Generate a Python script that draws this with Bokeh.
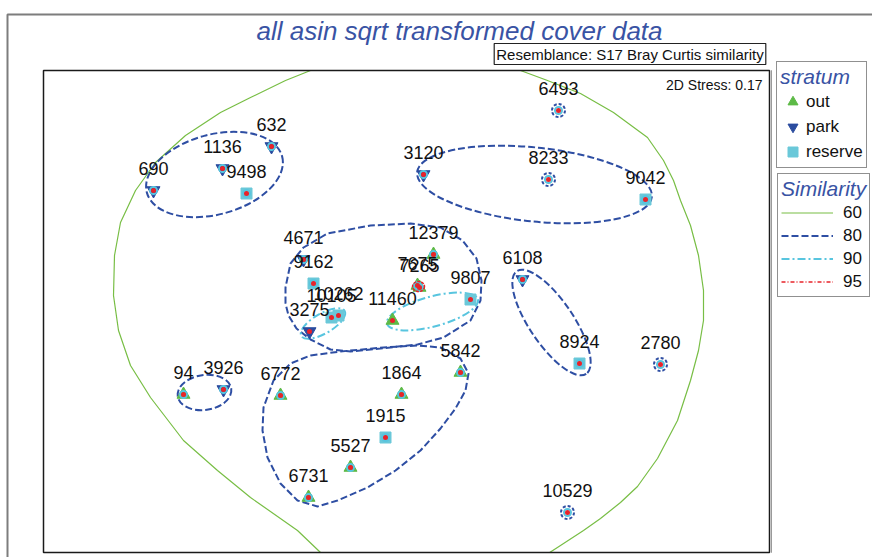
import numpy as np
from bokeh.plotting import figure
from bokeh.models import ColumnDataSource, Label, Legend, LegendItem, BoxAnnotation, Range1d
from bokeh.core.properties import value
from bokeh.embed import file_html
from bokeh.resources import INLINE

# ---------------- data (MDS ordination) ----------------
sample_ids = ["690", "1136", "632", "9498", "3120", "8233", "6493", "9042", "4671", "9162",
              "10105", "10262", "3275", "7265", "7675", "12379", "11460", "9807", "6108", "8924",
              "2780", "10529", "94", "3926", "6772", "1864", "5842", "1915", "5527", "6731"]
mds_x = [-2.535, -1.845, -1.355, -1.605, 0.165, 1.415, 1.515, 2.385, -1.035, -0.935,
         -0.755, -0.685, -0.975, 0.125, 0.105, 0.265, -0.145, 0.635, 1.155, 1.725,
         2.535, 1.605, -2.235, -1.835, -1.265, -0.055, 0.535, -0.215, -0.565, -0.985]
mds_y = [1.205, 1.425, 1.645, 1.175, 1.365, 1.315, 2.005, 1.115, 0.515, 0.275,
         -0.065, -0.045, -0.205, 0.235, 0.255, 0.565, -0.095, 0.115, 0.315, -0.525,
         -0.535, -2.015, -0.835, -0.785, -0.845, -0.835, -0.615, -1.265, -1.565, -1.865]
stratum = ["park", "park", "park", "reserve", "park", "", "", "reserve", "park", "reserve",
           "reserve", "reserve", "park", "out", "out", "out", "out", "reserve", "park", "reserve",
           "", "", "out", "park", "out", "out", "out", "reserve", "out", "out"]

single_at_80 = ["6493", "8233", "2780", "10529"]
grouped_at_90 = ["10105", "10262", "3275", "11460", "9807"]

# ordination plot extent (MDS units)
plot_x0, plot_x1 = -3.635, 3.625
plot_y0, plot_y1 = -2.415, 2.405

# 80% similarity contours drawn as ellipses (centre, width, height, angle deg)
ell80_x = [-1.925, 1.275, 1.445, -2.025]
ell80_y = [1.365, 1.265, -0.115, -0.815]
ell80_w = [1.40, 2.36, 1.24, 0.54]
ell80_h = [0.80, 0.74, 0.44, 0.35]
ell80_a = [15, -6, -56, 8]
# 90% contours
ell90_x = [-0.84, 0.255]
ell90_y = [-0.125, -0.005]
ell90_w = [0.50, 0.94]
ell90_h = [0.20, 0.30]
ell90_a = [30, 15]
# 95% contour
ell95_x = [0.115]
ell95_y = [0.245]
ell95_w = [0.12]
ell95_h = [0.10]
ell95_a = [0]

# 80% irregular contours (vertices)
c80a_x = [-1.215, -1.215, -1.165, -1.035, -0.795, -0.365, 0.035, 0.335, 0.555, 0.695, 0.745,
          0.735, 0.635, 0.365, 0.105, -0.265, -0.565, -0.765, -0.965, -1.105, -1.185]
c80a_y = [0.075, 0.235, 0.475, 0.635, 0.775, 0.855, 0.875, 0.835, 0.705, 0.525, 0.305,
          0.105, -0.095, -0.265, -0.335, -0.375, -0.405, -0.385, -0.285, -0.175, -0.045]
c80b_x = [-0.965, -0.665, -0.235, 0.105, 0.335, 0.535, 0.615, 0.585, 0.485, 0.335, 0.135,
          -0.115, -0.395, -0.695, -0.895, -1.095, -1.265, -1.395, -1.445, -1.435, -1.335, -1.165]
c80b_y = [-0.445, -0.405, -0.365, -0.345, -0.365, -0.475, -0.625, -0.795, -0.975, -1.175, -1.395,
          -1.595, -1.765, -1.895, -1.955, -1.895, -1.725, -1.465, -1.195, -0.965, -0.695, -0.525]
# 60% contour: the two arcs visible inside the plot box
c60_left_x = [-0.865, -1.095, -1.565, -1.895, -2.235, -2.565, -2.765, -2.885, -2.935, -2.925,
              -2.865, -2.715, -2.515, -2.215, -1.865, -1.565, -1.215, -0.965]
c60_left_y = [-2.415, -2.195, -1.865, -1.595, -1.295, -0.865, -0.545, -0.195, 0.155, 0.555,
              0.885, 1.205, 1.485, 1.755, 1.985, 2.135, 2.305, 2.405]
c60_right_x = [1.135, 1.405, 1.735, 2.065, 2.405, 2.565, 2.665, 2.735, 2.835, 2.915, 2.965,
               2.965, 2.915, 2.835, 2.705, 2.505, 2.305, 2.135, 1.935, 1.765, 1.535, 1.427]
c60_right_y = [2.405, 2.305, 2.175, 1.985, 1.735, 1.505, 1.305, 1.105, 0.855, 0.555, 0.205,
               -0.095, -0.395, -0.695, -1.095, -1.475, -1.755, -1.915, -2.075, -2.195, -2.345, -2.415]

sim_levels = ["60", "80", "90", "95"]
strata = ["out", "park", "reserve"]

# ---------------- styles ----------------
GREEN = "#5dba47"
BLUE = "#2b4c9f"
CYAN = "#6ac8d9"
RED = "#e8232a"
C60 = "#78be45"
C80 = "#2e4ea3"
C90 = "#58c5df"
C95 = "#e8232a"
TITLE = "#3953a4"
FONT = "Liberation Sans"

W, H = 872, 557
PX = 100.0  # pixels per MDS unit (equal aspect)
ML, MR, MT, MB = 43, 103, 70, 5   # plot-box margins inside the canvas
p = figure(width=W, height=H,
           x_range=Range1d(plot_x0 - ML / PX, plot_x1 + MR / PX),
           y_range=Range1d(plot_y0 - MB / PX, plot_y1 + MT / PX),
           output_backend="svg", toolbar_location=None, title=None,
           x_axis_location=None, y_axis_location=None,
           min_border_left=0, min_border_right=0, min_border_top=0, min_border_bottom=0)
p.xgrid.grid_line_color = None
p.ygrid.grid_line_color = None
p.outline_line_color = None
p.background_fill_color = "white"
p.border_fill_color = "white"

# contours
def closed(a):
    return list(a) + [a[0]]

r60 = p.multi_line([c60_left_x, c60_right_x], [c60_left_y, c60_right_y], line_color=C60, line_width=1.2)
r80 = p.multi_line([closed(c80a_x), closed(c80b_x)], [closed(c80a_y), closed(c80b_y)],
                   line_color=C80, line_width=2, line_dash="7 3")
p.ellipse(x=ell80_x, y=ell80_y, width=ell80_w, height=ell80_h, angle=ell80_a, angle_units="deg",
          fill_color=None, line_color=C80, line_width=2, line_dash="7 3")
p.ellipse(x=ell90_x, y=ell90_y, width=ell90_w, height=ell90_h, angle=ell90_a, angle_units="deg",
          fill_color=None, line_color=C90, line_width=2, line_dash="8 3 2 3")

# markers per stratum
marker_of = {"out": ("triangle", GREEN, 13), "park": ("inverted_triangle", BLUE, 13),
             "reserve": ("square", CYAN, 11)}
strat_r = {}
for st in strata:
    idx = [i for i, s in enumerate(stratum) if s == st]
    src = ColumnDataSource(dict(x=[mds_x[i] for i in idx], y=[mds_y[i] for i in idx]))
    mk, col, sz = marker_of[st]
    strat_r[st] = p.scatter("x", "y", source=src, marker=mk, size=sz, fill_color=col, line_color=col)

# single-sample similarity circles
i90 = [i for i, s in enumerate(sample_ids) if s not in grouped_at_90]
p.scatter([mds_x[i] for i in i90], [mds_y[i] for i in i90], marker="circle", size=7,
          fill_color=None, line_color=C90, line_width=2)
i80 = [i for i, s in enumerate(sample_ids) if s in single_at_80]
p.scatter([mds_x[i] for i in i80], [mds_y[i] for i in i80], marker="circle", size=13,
          fill_color=None, line_color=C80, line_width=2, line_dash="3 2")
p.ellipse(x=ell95_x, y=ell95_y, width=ell95_w, height=ell95_h, angle=ell95_a, angle_units="deg",
          fill_color=None, line_color=C95, line_width=1.5, line_dash="3 1")
p.scatter(mds_x, mds_y, marker="circle", size=5, fill_color=RED, line_color=None)

# sample labels
p.text(x=mds_x, y=mds_y, text=sample_ids, text_align="center", text_baseline="middle",
       y_offset=-22, text_font=value(FONT), text_font_size="18px", text_color="#111111")

# legend-only line renderers (no visible data)
nan = [float("nan")]
d60 = p.line(x=nan, y=nan, line_color=C60, line_width=1.2)
d80 = p.line(x=nan, y=nan, line_color=C80, line_width=2, line_dash="7 3")
d90 = p.line(x=nan, y=nan, line_color=C90, line_width=2, line_dash="8 3 2 3")
d95 = p.line(x=nan, y=nan, line_color=C95, line_width=1.5, line_dash="4 2 1 2")
sim_r = {"60": d60, "80": d80, "90": d90, "95": d95}

# plot box and outer page frame
p.add_layout(BoxAnnotation(left=plot_x0, right=plot_x1, bottom=plot_y0, top=plot_y1,
                           fill_color=None, fill_alpha=0, line_color="#1a1a1a", line_alpha=1.0,
                           line_width=1.5))
p.add_layout(BoxAnnotation(left=plot_x1 + 0.02, right=plot_x1 + 0.02, bottom=plot_y0, top=plot_y1,
                           fill_color=None, fill_alpha=0, line_color="#9a9a9a", line_alpha=1.0,
                           line_width=1))
p.add_layout(BoxAnnotation(left=7, right=W + 40, top=H - 14, bottom=-40,
                           left_units="screen", right_units="screen", top_units="screen",
                           bottom_units="screen", fill_color=None, fill_alpha=0,
                           line_color="#7d7d7d", line_alpha=1.0, line_width=2))

# texts
p.add_layout(Label(x=459, y=H - 30, x_units="screen", y_units="screen",
                   text="all asin sqrt transformed cover data", text_font=FONT, text_font_size="26px",
                   text_font_style="italic", text_color=TITLE, text_align="center", text_baseline="middle"))
p.add_layout(Label(x=629.5, y=H - 53.5, x_units="screen", y_units="screen",
                   text="Resemblance: S17 Bray Curtis similarity", text_font=FONT, text_font_size="15px",
                   text_color="#111111", text_align="center", text_baseline="middle",
                   border_line_color="#222222", border_line_width=1.2, background_fill_color="white",
                   padding=2))
p.add_layout(Label(x=762, y=H - 84, x_units="screen", y_units="screen", text="2D Stress: 0.17",
                   text_font=FONT, text_font_size="14px", text_color="#111111",
                   text_align="right", text_baseline="middle"))

common = dict(label_text_font=FONT, title_text_font=FONT, title_text_font_style="italic",
              title_text_color=TITLE, title_text_font_size="21px", label_text_font_size="17px",
              label_text_color="#111111", padding=3, spacing=0, margin=0, title_standoff=0,
              border_line_color="#222222", border_line_width=1.5, background_fill_color="white",
              background_fill_alpha=1.0)
leg1 = Legend(items=[LegendItem(label=s, renderers=[strat_r[s]]) for s in strata],
              location=(776, H - 168), title="stratum", glyph_width=25, glyph_height=25,
              label_standoff=1, **common)
leg2 = Legend(items=[LegendItem(label=s, renderers=[sim_r[s]]) for s in sim_levels],
              location=(777, H - 297), title="Similarity", glyph_width=52, glyph_height=23,
              label_standoff=10, **common)
p.add_layout(leg1)
p.add_layout(leg2)

open("out.html", "w").write(file_html(p, INLINE))
